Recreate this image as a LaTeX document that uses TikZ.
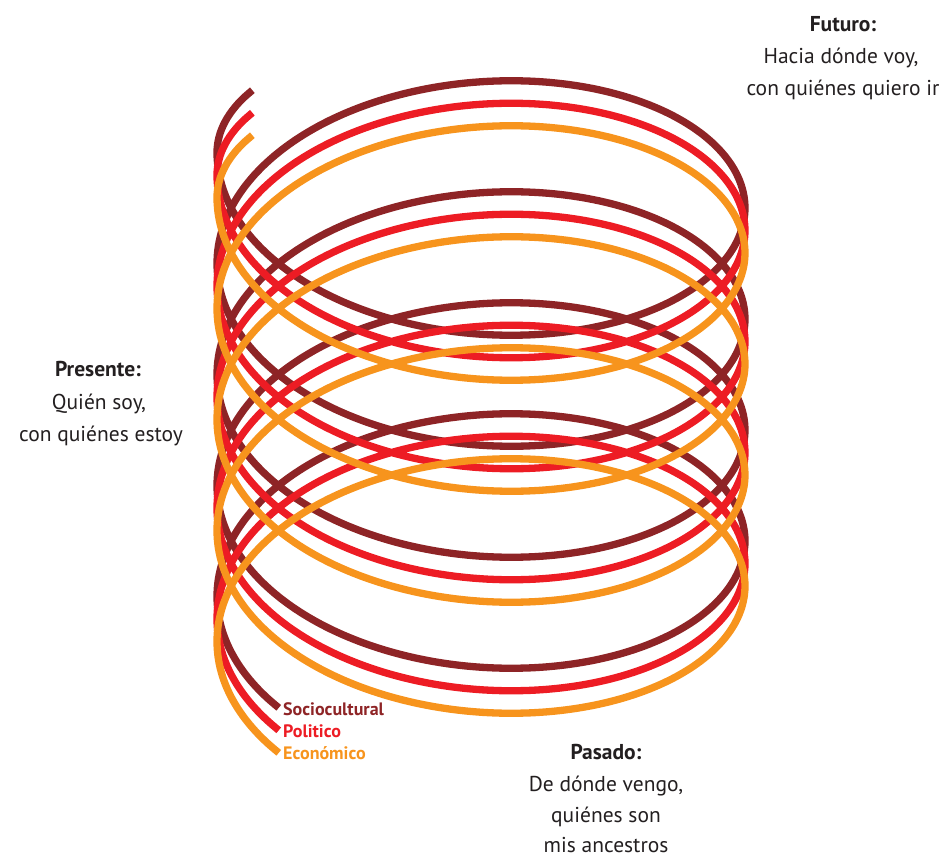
\documentclass[tikz,border=0pt]{standalone}
\usepackage{fontspec}
\setmainfont{PT Sans}
\definecolor{cSocio}{HTML}{8E2426}
\definecolor{cPoli}{HTML}{ED1C24}
\definecolor{cEcon}{HTML}{F7941D}
\definecolor{cText}{HTML}{231F20}
\tikzset{
  coil/.style={line width=7.3pt, line cap=butt, smooth, variable=\t, domain=150:1660, samples=430},
  caption/.style={anchor=base, text=cText, font=\fontsize{21.5}{26}\selectfont, inner sep=0pt},
  tag/.style={anchor=base west, font=\bfseries\fontsize{18}{22}\selectfont, inner sep=0pt}
}
\begin{document}
\begin{tikzpicture}[x=1pt, y=-1pt]
\useasboundingbox (0,0) rectangle (947,858);
% spirals: dark red, red, orange (translated copies)
\draw[coil, cSocio] plot ({481+264*cos(\t)}, {97+0.308333*\t-154*sin(\t)+0.8*max(0,180-\t)});
\draw[coil, cPoli]  plot ({481+264*cos(\t)}, {119.5+0.308333*\t-154*sin(\t)+0.8*max(0,180-\t)});
\draw[coil, cEcon]  plot ({481+264*cos(\t)}, {142+0.308333*\t-154*sin(\t)+0.8*max(0,180-\t)});
% labels at the spiral ends
\node[tag, text=cSocio] (socio) at (283,715) {Sociocultural};
\node[tag, text=cPoli]  (poli)  at (283,737) {Politico};
\node[tag, text=cEcon]  (econ)  at (283,759) {Económico};
% captions
\node[caption] (futuro)  at (843,32) {\textbf{Futuro:}};
\node[caption] (futuro2) at (841,64) {Hacia dónde voy,};
\node[caption] (futuro3) at (843,96) {con quiénes quiero ir};
\node[caption] (presente)  at (98,376) {\textbf{Presente:}};
\node[caption] (presente2) at (99,409) {Quién soy,};
\node[caption] (presente3) at (101,441) {con quiénes estoy};
\node[caption] (pasado)  at (606,759) {\textbf{Pasado:}};
\node[caption] (pasado2) at (606,791) {De dónde vengo,};
\node[caption] (pasado3) at (606,822) {quiénes son};
\node[caption] (pasado4) at (606,852) {mis ancestros};
\end{tikzpicture}
\end{document}
